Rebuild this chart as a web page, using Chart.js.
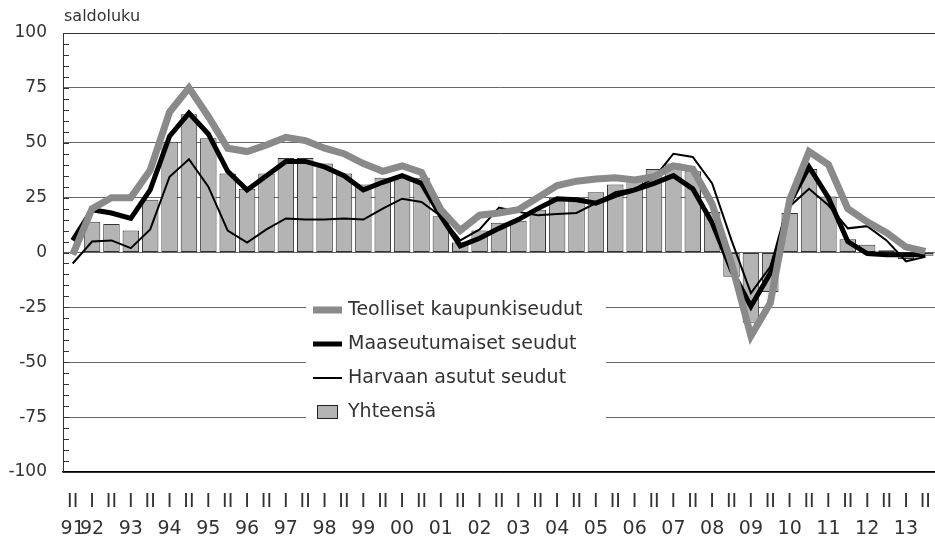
<!DOCTYPE html>
<html>
<head>
<meta charset="utf-8">
<script src="https://cdn.jsdelivr.net/npm/chart.js@4.4.0/dist/chart.umd.min.js"></script>
<style>
  body { margin: 0; background: #fff; }
  #wrap { width: 935px; height: 539px; position: relative; }
</style>
</head>
<body>
<div id="wrap"><canvas id="chartSaldo"></canvas></div>
<script>
/* Datos: puolivuodet 1991 II - 2013 II */
const halfYears = ['II','I','II','I','II','I','II','I','II','I','II','I','II','I','II','I','II','I','II','I','II','I','II',
  'I','II','I','II','I','II','I','II','I','II','I','II','I','II','I','II','I','II','I','II','I','II'];
const years = ['91','92','','93','','94','','95','','96','','97','','98','','99','','00','','01','','02','',
  '03','','04','','05','','06','','07','','08','','09','','10','','11','','12','','13',''];

const teolliset = [-1, 20, 25, 25, 37.5, 64, 75, 62, 47.5, 46, 49, 52.5, 51, 47.5, 45, 40.5, 37, 39.5, 36.5, 19.5, 10, 17, 18,
  19.5, 25, 30.5, 32.5, 33.5, 34, 33, 34.5, 39.5, 38, 22, -5, -38, -23, 24, 46, 40, 20, 14, 9, 2.5, 0.5];
const maaseutu = [5.5, 19.5, 18, 15.5, 28.5, 53, 63.5, 54, 37, 28.5, 35, 41.5, 41.5, 39, 35, 28.5, 32, 35, 31.5, 16.5, 3, 6.5, 11,
  15, 20, 24.5, 24, 22.5, 26, 28.5, 31.5, 35, 29, 13.5, -8, -24.5, -9.5, 22.5, 39, 25, 5, -0.5, -1, -1, -1];
const harvaan = [-5, 5, 5.5, 2, 10.5, 34.5, 42.5, 30, 10, 4.5, 10.5, 15.5, 15, 15, 15.5, 15, 20, 24.5, 23, 16.5, 5.5, 10.5, 20.5,
  18.5, 17, 17.5, 18, 22.5, 27.5, 29, 34, 45, 43.5, 31.5, 5.5, -18.5, -6.5, 21, 29, 21.5, 11, 12, 5.5, -4, -2];
const yhteensa = [0, 14, 13, 10, 24, 50.5, 63, 52, 36, 29, 36, 43, 43, 40.5, 36, 31, 34, 35, 34, 16.5, 4.5, 10, 13.5,
  14.5, 19.5, 25, 25, 27.5, 31, 33.5, 38, 40.5, 37, 18.5, -11, -32, -18, 18, 38, 25.5, 6, 3.5, 1, -3, -1.5];

const seriesNames = ['Teolliset kaupunkiseudut', 'Maaseutumaiset seudut', 'Harvaan asutut seudut', 'Yhteensä'];

const FONT = "'DejaVu Sans', 'Liberation Sans', sans-serif";
const TEXT = '#333';

/* pienet jakoviivat akselin sisäpuolelle + otsikko */
const axisExtras = {
  id: 'axisExtras',
  afterDraw(chart) {
    const ctx = chart.ctx;
    const y = chart.scales.y;
    const left = chart.chartArea.left;
    ctx.save();
    ctx.strokeStyle = '#333';
    ctx.lineWidth = 1;
    y.ticks.forEach((t) => {
      const py = Math.round(y.getPixelForValue(t.value)) + 0.5;
      ctx.beginPath();
      ctx.moveTo(left, py);
      ctx.lineTo(left + 6, py);
      ctx.stroke();
    });
    ctx.fillStyle = TEXT;
    ctx.font = '16px ' + FONT;
    ctx.textBaseline = 'middle';
    ctx.textAlign = 'left';
    ctx.fillText('saldoluku', 64, 17);
    ctx.restore();
  },
};

/* selite kuvan sisällä */
const innerLegend = {
  id: 'innerLegend',
  afterDraw(chart) {
    const ctx = chart.ctx;
    const marks = [
      { h: 7, color: '#8a8a8a' },
      { h: 5, color: '#000' },
      { h: 2, color: '#000' },
      { box: true },
    ];
    ctx.save();
    ctx.fillStyle = '#fff';
    ctx.fillRect(306, 288, 300, 140);
    ctx.font = '19px ' + FONT;
    ctx.textBaseline = 'middle';
    ctx.textAlign = 'left';
    seriesNames.forEach((name, i) => {
      const cy = 310 + i * 34;
      const m = marks[i];
      if (m.box) {
        ctx.fillStyle = '#b4b4b4';
        ctx.fillRect(317.5, cy - 6.5, 20, 13);
        ctx.strokeStyle = '#222';
        ctx.lineWidth = 1;
        ctx.strokeRect(317.5, cy - 6.5, 20, 13);
      } else {
        ctx.fillStyle = m.color;
        ctx.fillRect(313, cy - m.h / 2, 29, m.h);
      }
      ctx.fillStyle = TEXT;
      ctx.fillText(name, 348, cy);
    });
    ctx.restore();
  },
};

const ctx = document.getElementById('chartSaldo').getContext('2d');
const chartSaldo = new Chart(ctx, {
  type: 'bar',
  data: {
    labels: halfYears.map((h, i) => [h, years[i]]),
    datasets: [
      {
        type: 'line',
        label: seriesNames[0],
        data: teolliset,
        borderColor: '#8a8a8a',
        borderWidth: 7,
        pointRadius: 0,
        tension: 0,
        borderJoinStyle: 'miter',
        order: 0,
      },
      {
        type: 'line',
        label: seriesNames[1],
        data: maaseutu,
        borderColor: '#000',
        borderWidth: 5,
        pointRadius: 0,
        tension: 0,
        borderJoinStyle: 'miter',
        order: 1,
      },
      {
        type: 'line',
        label: seriesNames[2],
        data: harvaan,
        borderColor: '#000',
        borderWidth: 2,
        pointRadius: 0,
        tension: 0,
        order: 2,
      },
      {
        label: seriesNames[3],
        data: yhteensa,
        backgroundColor: '#b4b4b4',
        borderColor: '#333',
        borderWidth: 1,
        borderSkipped: false,
        categoryPercentage: 1,
        barPercentage: 0.85,
        order: 3,
      },
    ],
  },
  options: {
    responsive: true,
    maintainAspectRatio: false,
    animation: false,
    layout: { padding: { top: 33, left: 0, right: 0, bottom: 0 } },
    plugins: {
      legend: { display: false },
      tooltip: { enabled: false },
    },
    scales: {
      x: {
        afterFit: (s) => {
          s.height = 67;
          s.paddingLeft = 0;
          s.paddingRight = 0;
        },
        grid: { display: false },
        border: { display: true, color: '#000', width: 1.5 },
        ticks: {
          autoSkip: false,
          maxRotation: 0,
          padding: 9,
          color: TEXT,
          font: { family: FONT, size: 19, lineHeight: 1.4 },
        },
      },
      y: {
        min: -100,
        max: 100,
        afterFit: (s) => {
          s.width = 63;
          s.paddingTop = 0;
          s.paddingBottom = 0;
        },
        grid: {
          drawTicks: false,
          color: (c) => (c.tick.value === 100 ? '#333' : c.tick.value % 25 === 0 ? '#666' : 'rgba(0,0,0,0)'),
        },
        border: { display: true, color: '#333', width: 1 },
        ticks: {
          stepSize: 5,
          autoSkip: false,
          padding: 16,
          color: TEXT,
          font: { family: FONT, size: 17 },
          callback: (v) => (v % 25 === 0 ? v : ''),
        },
      },
    },
  },
  plugins: [axisExtras, innerLegend],
});
</script>
</body>
</html>
